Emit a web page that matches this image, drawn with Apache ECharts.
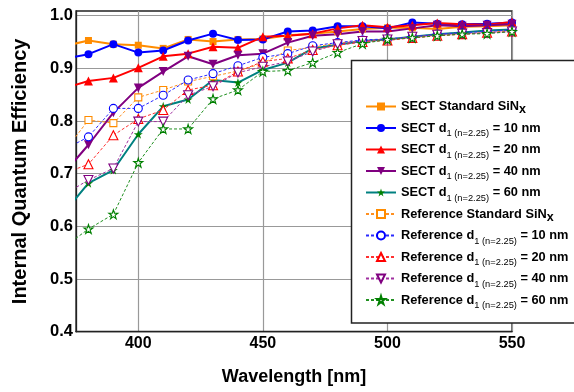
<!DOCTYPE html>
<html><head><meta charset="utf-8">
<script src="https://cdn.jsdelivr.net/npm/echarts@6/dist/echarts.min.js"></script>
<style>html,body{margin:0;padding:0;background:#fff}#c{width:574px;height:392px}</style>
</head><body><div id="c"></div>
<script>
// ---- data ----
const wavelengths = [370,380,390,400,410,420,430,440,450,460,470,480,490,500,510,520,530,540,550];
const sectStandard = [0.942,0.953,0.946,0.944,0.938,0.955,0.951,0.955,0.956,0.963,0.966,0.970,0.975,0.977,0.977,0.975,0.979,0.980,0.982];
const sect10 = [0.918,0.927,0.946,0.930,0.934,0.953,0.966,0.954,0.955,0.970,0.972,0.980,0.980,0.976,0.987,0.985,0.984,0.985,0.987];
const sect20 = [0.862,0.876,0.882,0.901,0.923,0.928,0.941,0.939,0.960,0.962,0.966,0.976,0.982,0.978,0.982,0.986,0.984,0.983,0.988];
const sect40 = [0.700,0.755,0.816,0.863,0.894,0.923,0.908,0.925,0.928,0.949,0.962,0.965,0.970,0.970,0.976,0.982,0.980,0.982,0.984];
const sect60 = [0.625,0.682,0.707,0.775,0.828,0.841,0.878,0.873,0.897,0.911,0.938,0.945,0.952,0.955,0.960,0.965,0.968,0.972,0.974];
const refStandard = [0.740,0.802,0.796,0.845,0.859,0.875,0.885,0.895,0.910,0.934,0.940,0.948,0.952,0.955,0.958,0.962,0.965,0.968,0.972];
const ref10 = [0.745,0.770,0.824,0.824,0.849,0.878,0.890,0.905,0.921,0.928,0.943,0.949,0.954,0.956,0.960,0.965,0.968,0.970,0.973];
const ref20 = [0.700,0.718,0.773,0.804,0.821,0.859,0.868,0.894,0.913,0.919,0.935,0.944,0.950,0.953,0.958,0.962,0.965,0.968,0.970];
const ref40 = [0.660,0.688,0.710,0.799,0.799,0.849,0.866,0.892,0.903,0.913,0.932,0.946,0.952,0.955,0.960,0.964,0.966,0.967,0.970];
const ref60 = [0.560,0.595,0.623,0.721,0.785,0.785,0.842,0.859,0.894,0.896,0.911,0.930,0.947,0.955,0.958,0.962,0.965,0.966,0.970];
const xTickValues = [400,450,500,550];
const yTickValues = [0.4,0.5,0.6,0.7,0.8,0.9,1.0];
const seriesNames = [
  'SECT Standard SiNx','SECT d1 10','SECT d1 20','SECT d1 40','SECT d1 60',
  'Reference Standard SiNx','Reference d1 10','Reference d1 20','Reference d1 40','Reference d1 60'
];
const legendLabels = [
  '{b|SECT Standard SiN}{x|x}',
  '{b|SECT d}{s|1 (n=2.25)}{b| = 10 nm}',
  '{b|SECT d}{s|1 (n=2.25)}{b| = 20 nm}',
  '{b|SECT d}{s|1 (n=2.25)}{b| = 40 nm}',
  '{b|SECT d}{s|1 (n=2.25)}{b| = 60 nm}',
  '{b|Reference Standard SiN}{x|x}',
  '{b|Reference d}{s|1 (n=2.25)}{b| = 10 nm}',
  '{b|Reference d}{s|1 (n=2.25)}{b| = 20 nm}',
  '{b|Reference d}{s|1 (n=2.25)}{b| = 40 nm}',
  '{b|Reference d}{s|1 (n=2.25)}{b| = 60 nm}'
];
const xTitle = 'Wavelength [nm]';
const yTitle = 'Internal Quantum Efficiency';

// ---- styling ----
const FONT = 'Liberation Sans, Arial, Helvetica, sans-serif';
const STAR = 'path://M50 0 L61.2 34.5 L97.6 34.5 L68.2 55.9 L79.4 90.5 L50 69.1 L20.6 90.5 L31.8 55.9 L2.4 34.5 L38.8 34.5 Z';
const values = [sectStandard, sect10, sect20, sect40, sect60, refStandard, ref10, ref20, ref40, ref60];
const styles = [
  {line:'#ff8c00', mark:'#ff8c00', symbol:'rect', size:7, rot:0, dashed:false},
  {line:'#0000ff', mark:'#0000ff', symbol:'circle', size:8, rot:0, dashed:false},
  {line:'#ff0000', mark:'#ff0000', symbol:'triangle', size:9, rot:0, dashed:false},
  {line:'#800080', mark:'#800080', symbol:'triangle', size:9, rot:180, dashed:false},
  {line:'#008080', mark:'#008000', symbol:STAR, size:9, rot:0, dashed:false},
  {line:'#ff9020', mark:'#ff8c00', symbol:'rect', size:7, rot:0, dashed:true},
  {line:'#2a2aff', mark:'#0000ff', symbol:'circle', size:8, rot:0, dashed:true},
  {line:'#ff3030', mark:'#ff0000', symbol:'triangle', size:9, rot:0, dashed:true},
  {line:'#a030a0', mark:'#800080', symbol:'triangle', size:9, rot:180, dashed:true},
  {line:'#209020', mark:'#008000', symbol:STAR, size:9, rot:0, dashed:true}
];

const series = values.map((vals, i) => {
  const s = styles[i];
  return {
    type: 'line',
    name: seriesNames[i],
    data: wavelengths.map((w, j) => [w, vals[j]]),
    symbol: s.symbol,
    symbolSize: s.size,
    symbolRotate: s.rot,
    showSymbol: true,
    clip: true,
    z: s.dashed ? 3 : 2,
    lineStyle: {color: s.line, width: s.dashed ? 1 : 2, type: s.dashed ? [3, 2] : 'solid'},
    itemStyle: s.dashed ? {color: '#fff', borderColor: s.mark, borderWidth: 1.1}
                        : {color: s.mark, borderWidth: 0},
    emphasis: {disabled: true},
    animation: false
  };
});

const rich = {
  b: {fontSize: 12.8, fontWeight: 'bold', lineHeight: 20, color: '#000', fontFamily: FONT},
  s: {fontSize: 9.3, fontWeight: 'normal', lineHeight: 10, verticalAlign: 'bottom', color: '#000', fontFamily: FONT},
  x: {fontSize: 12.5, fontWeight: 'bold', lineHeight: 12, verticalAlign: 'bottom', color: '#000', fontFamily: FONT}
};

const legends = seriesNames.map((n, i) => ({
  data: [n],
  orient: 'vertical',
  left: 365,
  top: 100 + i * 21.5,
  itemWidth: 30,
  itemHeight: 10,
  padding: 0,
  z: 20,
  selectedMode: false,
  formatter: () => legendLabels[i],
  textStyle: {rich: rich, fontFamily: FONT}
}));

const chart = echarts.init(document.getElementById('c'), null, {renderer: 'canvas'});
chart.setOption({
  animation: false,
  backgroundColor: '#fff',
  grid: {left: 76, right: 62, top: 11, bottom: 60.3, show: true, borderColor: '#222', borderWidth: 1.3, backgroundColor: 'transparent'},
  xAxis: {
    type: 'value', min: 375, max: 550,
    name: xTitle, nameLocation: 'middle', nameGap: 36,
    nameTextStyle: {fontSize: 18, fontWeight: 'bold', color: '#000', fontFamily: FONT},
    axisLine: {show: true, lineStyle: {color: '#222', width: 1.3}},
    axisTick: {show: false, customValues: xTickValues},
    axisLabel: {customValues: xTickValues, fontSize: 16, fontWeight: 'bold', color: '#000', margin: 4, fontFamily: FONT},
    splitLine: {show: true, lineStyle: {color: '#999', width: 1.2}}
  },
  yAxis: {
    type: 'value', min: 0.4, max: 1.009,
    name: yTitle, nameLocation: 'middle', nameGap: 46, nameRotate: 90,
    nameTextStyle: {fontSize: 20, fontWeight: 'bold', color: '#000', fontFamily: FONT},
    axisLine: {show: true, lineStyle: {color: '#222', width: 1.3}},
    axisTick: {show: false, customValues: yTickValues},
    axisLabel: {customValues: yTickValues, formatter: v => v.toFixed(1), fontSize: 16.5, fontWeight: 'bold', color: '#000', margin: 3, fontFamily: FONT},
    splitLine: {show: true, lineStyle: {color: '#999', width: 1.2}}
  },
  legend: legends,
  graphic: [{
    type: 'rect', z: 10,
    shape: {x: 351.5, y: 60.5, width: 240, height: 262.5},
    style: {fill: '#fff', stroke: '#222', lineWidth: 1.5}
  }],
  series: series
});
</script></body></html>
